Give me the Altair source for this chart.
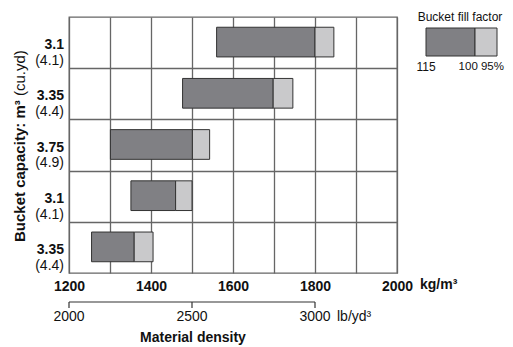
import altair as alt
import pandas as pd

# ---- data ----
cap_m3 = ["3.1", "3.35", "3.75", "3.1", "3.35"]
cap_yd = ["(4.1)", "(4.4)", "(4.9)", "(4.1)", "(4.4)"]
dens_115 = [1560, 1477, 1301, 1351, 1255]   # kg/m3 at 115 % fill
dens_100 = [1800, 1698, 1501, 1460, 1359]   # kg/m3 at 100 % fill
dens_95 = [1846, 1746, 1543, 1500, 1405]    # kg/m3 at 95 % fill
kg_ticks = [1200, 1300, 1400, 1500, 1600, 1700, 1800, 1900, 2000]
lb_ticks = [2000, 2500, 3000]
lb_pos_kg = [1200, 1500, 1800]
row_lines = [1, 2, 3, 4]

FONT = "Liberation Sans"
DARK = "#808084"
LIGHT = "#c9c9cb"
EDGE = "#333333"
GRID = "#666666"
TXT = "#111111"

df = pd.DataFrame({
    "row": list(range(5)),
    "m3": cap_m3,
    "yd": cap_yd,
    "d115": dens_115,
    "d100": dens_100,
    "d95": dens_95,
})
lb_df = pd.DataFrame({"lb": lb_ticks, "kg": lb_pos_kg})

xs = alt.Scale(domain=[1200, 2000], nice=False, zero=False)
ys = alt.Scale(domain=[0, 5], reverse=True, nice=False, zero=False)

base = alt.Chart(df).transform_calculate(
    y0="datum.row + 0.2",
    y1="datum.row + 0.78",
    ym="datum.row + 0.55",
    yp="datum.row + 0.86",
)

x_axis = alt.Axis(
    values=kg_ticks, grid=True, gridColor=GRID, gridWidth=1.3, ticks=False,
    domain=False, format="d", labelFlush=False, labelOverlap=False,
    labelExpr="datum.value % 200 == 0 ? datum.label : ''",
    labelFont=FONT, labelFontSize=14, labelFontWeight="bold", labelColor=TXT,
    labelPadding=6, title=None,
)
y_axis = alt.Axis(
    values=row_lines, grid=True, gridColor=GRID, gridWidth=1.3, ticks=False,
    domain=False, labels=False, title=None,
)

dark = base.mark_rect(fill=DARK, stroke=EDGE, strokeWidth=1).encode(
    x=alt.X("d115:Q", scale=xs, axis=x_axis),
    x2="d100:Q",
    y=alt.Y("y0:Q", scale=ys, axis=y_axis),
    y2="y1:Q",
)
light = base.mark_rect(fill=LIGHT, stroke=EDGE, strokeWidth=1).encode(
    x=alt.X("d100:Q", scale=xs),
    x2="d95:Q",
    y=alt.Y("y0:Q", scale=ys),
    y2="y1:Q",
)
lab_m3 = base.mark_text(align="right", baseline="middle", font=FONT, fontSize=14,
                        fontWeight="bold", color=TXT).encode(
    x=alt.value(-5), y=alt.Y("ym:Q", scale=ys), text="m3:N")
lab_yd = base.mark_text(align="right", baseline="middle", font=FONT, fontSize=14,
                        color=TXT).encode(
    x=alt.value(-5), y=alt.Y("yp:Q", scale=ys), text="yd:N")

# y title (mixed weight)
ytitle_a = alt.Chart(pd.DataFrame({"t": ["Bucket capacity: m³"]})).mark_text(
    angle=270, align="left", baseline="middle", font=FONT, fontSize=15,
    fontWeight="bold", color=TXT).encode(x=alt.value(-49), y=alt.value(225), text="t:N")
ytitle_b = alt.Chart(pd.DataFrame({"t": ["(cu.yd)"]})).mark_text(
    angle=270, align="left", baseline="middle", font=FONT, fontSize=15,
    color=TXT).encode(x=alt.value(-49), y=alt.value(79), text="t:N")

kg_unit = alt.Chart(pd.DataFrame({"t": ["kg/m³"]})).mark_text(
    align="left", baseline="middle", font=FONT, fontSize=14, fontWeight="bold",
    color=TXT).encode(x=alt.value(351), y=alt.value(268), text="t:N")

# secondary lb/yd3 scale
lb_line = alt.Chart(pd.DataFrame({"a": [lb_pos_kg[0]], "b": [lb_pos_kg[-1]]})).mark_rule(
    color="#333", strokeWidth=1.2).encode(
    x=alt.X("a:Q", scale=xs), x2="b:Q", y=alt.value(285))
lb_tick = alt.Chart(lb_df).mark_rule(color="#333", strokeWidth=1.2).encode(
    x=alt.X("kg:Q", scale=xs), y=alt.value(285), y2=alt.value(291))
lb_lab = alt.Chart(lb_df).mark_text(baseline="middle", font=FONT, fontSize=14,
                                     color=TXT).encode(
    x=alt.X("kg:Q", scale=xs), y=alt.value(300), text=alt.Text("lb:Q", format="d"))
lb_unit = alt.Chart(pd.DataFrame({"t": ["lb/yd³"]})).mark_text(
    align="left", baseline="middle", font=FONT, fontSize=14, color=TXT).encode(
    x=alt.value(268), y=alt.value(300), text="t:N")
xtitle = alt.Chart(pd.DataFrame({"t": ["Material density"]})).mark_text(
    align="center", baseline="middle", font=FONT, fontSize=14, fontWeight="bold",
    color=TXT).encode(x=alt.value(124), y=alt.value(321), text="t:N")

# legend
leg_title = alt.Chart(pd.DataFrame({"t": ["Bucket fill factor"]})).mark_text(
    align="center", baseline="middle", font=FONT, fontSize=12, color=TXT).encode(
    x=alt.value(391), y=alt.value(0), text="t:N")
leg_dark = alt.Chart(pd.DataFrame({"a": [0]})).mark_rect(
    fill=DARK, stroke=EDGE, strokeWidth=1).encode(
    x=alt.value(357), x2=alt.value(406), y=alt.value(11), y2=alt.value(39))
leg_light = alt.Chart(pd.DataFrame({"a": [0]})).mark_rect(
    fill=LIGHT, stroke=EDGE, strokeWidth=1).encode(
    x=alt.value(406), x2=alt.value(428), y=alt.value(11), y2=alt.value(39))
leg_l1 = alt.Chart(pd.DataFrame({"t": ["115"]})).mark_text(
    align="center", baseline="middle", font=FONT, fontSize=12, color=TXT).encode(
    x=alt.value(357), y=alt.value(50), text="t:N")
leg_l2 = alt.Chart(pd.DataFrame({"t": ["100 95%"]})).mark_text(
    align="right", baseline="middle", font=FONT, fontSize=11.5, color=TXT).encode(
    x=alt.value(435), y=alt.value(50), text="t:N")

chart = alt.layer(
    dark, light, lab_m3, lab_yd, ytitle_a, ytitle_b, kg_unit,
    lb_line, lb_tick, lb_lab, lb_unit, xtitle,
    leg_title, leg_dark, leg_light, leg_l1, leg_l2,
).properties(
    width=328, height=256,
    autosize=alt.AutoSizeParams(type="none"),
    padding={"left": 61, "top": 9, "right": 108, "bottom": 74},
    background="white",
).configure_view(stroke=GRID, strokeWidth=1.3)

chart.save("out.html", embed_options={"renderer": "svg", "actions": False})
